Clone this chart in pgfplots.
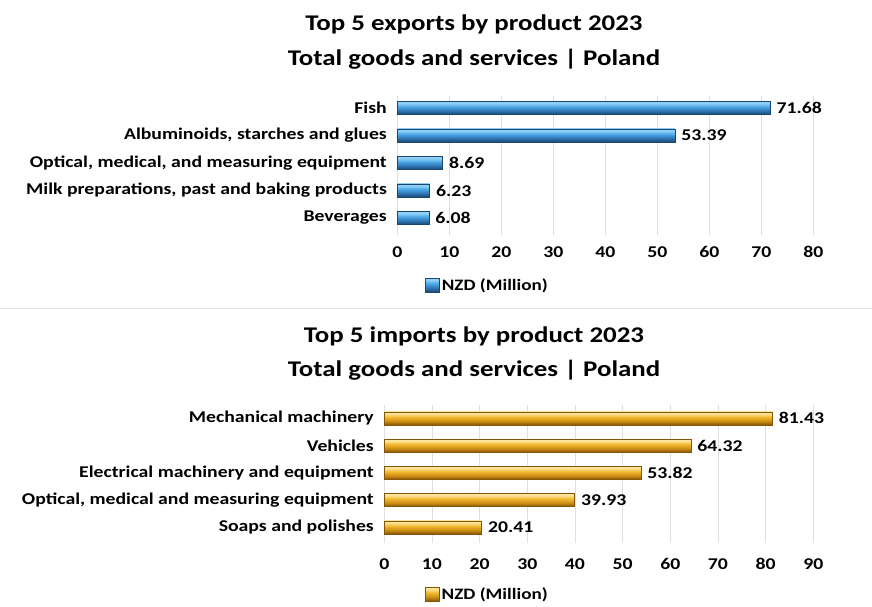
\documentclass[border=0pt]{standalone}
\usepackage{fontspec}
\setmainfont{Carlito}[FakeStretch=1.2]
\usepackage{pgfplots}
\pgfplotsset{compat=1.18}
\definecolor{bA}{HTML}{1A4670}
\definecolor{bB}{HTML}{2C70AE}
\definecolor{bC}{HTML}{4BA6E6}
\definecolor{bD}{HTML}{8FD0F8}
\definecolor{gA}{HTML}{855508}
\definecolor{gB}{HTML}{C98A12}
\definecolor{gC}{HTML}{F3B930}
\definecolor{gD}{HTML}{FCE49A}
\pgfdeclareverticalshading{bluebar}{100bp}{color(0bp)=(bA);color(25bp)=(bA);color(38bp)=(bB);color(55bp)=(bC);color(68bp)=(bD);color(75bp)=(bD);color(100bp)=(bD)}
\pgfdeclareverticalshading{goldbar}{100bp}{color(0bp)=(gA);color(25bp)=(gA);color(38bp)=(gB);color(55bp)=(gC);color(68bp)=(gD);color(75bp)=(gD);color(100bp)=(gD)}
\pgfplotsset{
  /pgf/number format/assume math mode=true,
  bluebarstyle/.style={shading=bluebar, draw=bA, line width=0.4bp},
  goldbarstyle/.style={shading=goldbar, draw=gA, line width=0.4bp},
  common/.style={
    scale only axis,
    xbar, bar width=13bp, bar shift=0pt,
    axis line style={draw=none},
    major tick length=0pt,
    xmajorgrids, grid style={gray!25, line width=0.8bp},
    ytick={0,1,2,3,4},
    clip=false,
    tick label style={font=\bfseries\fontsize{16.5}{18}\selectfont, text=black},
    yticklabel style={xshift=-7bp},
    nodes near coords={\pgfmathprintnumber[fixed,precision=2,fixed zerofill]{\pgfplotspointmeta}},
    nodes near coords style={font=\bfseries\fontsize{16.5}{18}\selectfont, anchor=west, xshift=3bp, text=black},
    legend style={draw=none, fill=none, font=\bfseries\fontsize{16}{18}\selectfont, anchor=west, inner sep=0pt},
  },
}
\begin{document}
\begin{tikzpicture}
\useasboundingbox (0,0) rectangle (872bp,607bp);
\fill[white] (0,0) rectangle (872bp,607bp);
% titles
\node[font=\bfseries\fontsize{22.5}{24}\selectfont] at (474bp,583bp) {Top 5 exports by product 2023};
\node[font=\bfseries\fontsize{22.5}{24}\selectfont] at (474bp,548bp) {Total goods and services | Poland};
\node[font=\bfseries\fontsize{22.5}{24}\selectfont] at (474bp,271bp) {Top 5 imports by product 2023};
\node[font=\bfseries\fontsize{22.5}{24}\selectfont] at (474bp,237bp) {Total goods and services | Poland};
\draw[gray!25, line width=1bp] (0,298bp) -- (872bp,298bp);
% exports
\begin{axis}[common,
  at={(397.3bp,372bp)}, anchor=south west,
  width=416bp, height=139bp,
  xmin=0, xmax=80, xtick={0,10,...,80},
  xticklabel style={yshift=-8bp},
  ymin=-0.618, ymax=4.436,
  yticklabels={Beverages,{Milk preparations, past and baking products},{Optical, medical, and measuring equipment},{Albuminoids, starches and glues},Fish},
  legend style={at={(axis description cs:0.067,-0.36)}},
  legend image code/.code={\path[shading=bluebar, draw=bA, line width=0.4bp] (0bp,-7bp) rectangle (14bp,7bp);},
]
\addplot[bluebarstyle] coordinates {(6.08,0)};
\addlegendentry{NZD (Million)}
\addplot[bluebarstyle] coordinates {(6.23,1)};
\addplot[bluebarstyle] coordinates {(8.69,2)};
\addplot[bluebarstyle] coordinates {(53.39,3)};
\addplot[bluebarstyle] coordinates {(71.68,4)};
\end{axis}
% imports
\begin{axis}[common,
  at={(384.3bp,64bp)}, anchor=south west,
  width=429bp, height=138bp,
  xmin=0, xmax=90, xtick={0,10,...,90},
  xticklabel style={yshift=-12bp},
  ymin=-0.576, ymax=4.488,
  yticklabels={Soaps and polishes,{Optical, medical and measuring equipment},Electrical machinery and equipment,Vehicles,Mechanical machinery},
  legend style={at={(axis description cs:0.095,-0.37)}},
  legend image code/.code={\path[shading=goldbar, draw=gA, line width=0.4bp] (0bp,-7bp) rectangle (14bp,7bp);},
]
\addplot[goldbarstyle] coordinates {(20.41,0)};
\addlegendentry{NZD (Million)}
\addplot[goldbarstyle] coordinates {(39.93,1)};
\addplot[goldbarstyle] coordinates {(53.82,2)};
\addplot[goldbarstyle] coordinates {(64.32,3)};
\addplot[goldbarstyle] coordinates {(81.43,4)};
\end{axis}
\end{tikzpicture}
\end{document}
